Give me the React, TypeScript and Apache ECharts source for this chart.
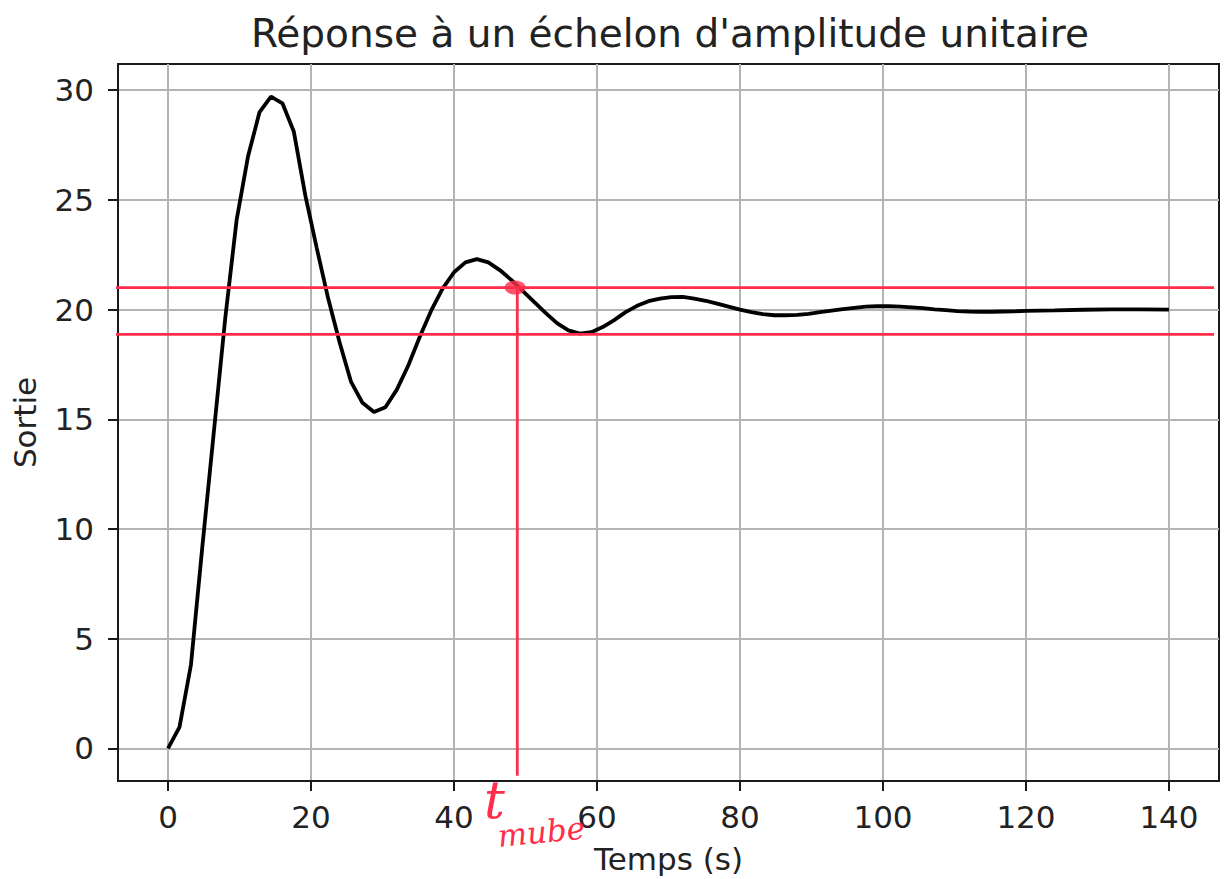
import React, { useEffect, useRef } from "react";
import * as echarts from "echarts";

// Temps (s)
const temps = [
  0, 1.6, 3.2, 4.8, 6.4, 8.0, 9.6, 11.2, 12.8, 14.4, 16.0, 17.6, 19.2, 20.8,
  22.4, 24.0, 25.6, 27.2, 28.8, 30.4, 32.0, 33.6, 35.2, 36.8, 38.4, 40.0,
  41.6, 43.2, 44.8, 46.4, 48.0, 49.6, 51.2, 52.8, 54.4, 56.0, 57.6, 59.2,
  60.8, 62.4, 64.0, 65.6, 67.2, 68.8, 70.4, 72.0, 73.6, 75.2, 76.8, 78.4,
  80.0, 81.6, 83.2, 84.8, 86.4, 88.0, 89.6, 91.2, 92.8, 94.4, 96.0, 97.6,
  99.2, 100.8, 102.4, 104.0, 105.6, 107.2, 108.8, 110.4, 112.0, 113.6, 115.2,
  116.8, 118.4, 120.0, 124.0, 128.0, 132.0, 136.0, 140.0,
];
// Sortie
const sortie = [
  0, 0.97, 3.8, 9.2, 14.4, 19.6, 24.1, 27.0, 29.0, 29.7, 29.4, 28.1, 25.2,
  22.8, 20.5, 18.5, 16.7, 15.75, 15.33, 15.55, 16.35, 17.45, 18.75, 19.95,
  20.95, 21.7, 22.15, 22.3, 22.15, 21.8, 21.35, 20.85, 20.35, 19.85, 19.38,
  19.05, 18.9, 18.97, 19.2, 19.52, 19.88, 20.17, 20.38, 20.5, 20.57, 20.58,
  20.5, 20.4, 20.27, 20.13, 20.0, 19.88, 19.79, 19.74, 19.74, 19.76, 19.8,
  19.88, 19.95, 20.02, 20.08, 20.13, 20.15, 20.15, 20.13, 20.1, 20.06, 20.01,
  19.97, 19.93, 19.91, 19.9, 19.9, 19.91, 19.92, 19.94, 19.96, 19.99, 20.01,
  20.01, 20.0,
];

const xTicks = [0, 20, 40, 60, 80, 100, 120, 140];
const yTicks = [0, 5, 10, 15, 20, 25, 30];

// hand-drawn annotation (red)
const bandLevels = [21.0, 18.87];
const bandSpan = [-7.4, 146.3];
const tSettle = 48.85;
const tSettleBottom = -1.25;

export default function App() {
  const ref = useRef<HTMLDivElement>(null);
  useEffect(() => {
    if (!ref.current) return;
    const chart = echarts.init(ref.current, undefined, { renderer: "svg" });
    const red = "#ff2d4a";
    const font = "DejaVu Sans";
    const txt = "#222222";
    const grid = "#b4b4b4";

    const curve = temps.map((t, i) => [t, sortie[i]]);
    const bandSeries = bandLevels.map((lv, i) => ({
      type: "line",
      name: "band" + i,
      data: [
        [bandSpan[0], lv],
        [bandSpan[1], lv],
      ],
      showSymbol: false,
      clip: false,
      silent: true,
      lineStyle: { color: red, width: 2.8 },
      z: 5,
    }));

    chart.setOption({
      animation: false,
      backgroundColor: "#ffffff",
      title: {
        text: "Réponse à un échelon d'amplitude unitaire",
        left: 246,
        top: 9,
        textStyle: {
          fontFamily: font,
          fontSize: 39,
          fontWeight: "normal",
          color: txt,
        },
      },
      grid: {
        left: 118,
        right: 10,
        top: 64,
        bottom: 98,
        show: true,
        borderColor: "#1a1a1a",
        borderWidth: 2,
      },
      xAxis: {
        type: "value",
        min: -7,
        max: 147,
        name: "Temps (s)",
        nameLocation: "middle",
        nameGap: 62,
        nameTextStyle: { fontFamily: font, fontSize: 31, color: txt },
        axisLine: { show: true, onZero: false, lineStyle: { color: "#1a1a1a", width: 2 } },
        axisTick: {
          show: true,
          length: 10,
          customValues: xTicks,
          lineStyle: { color: "#1a1a1a", width: 2 },
        },
        axisLabel: {
          customValues: xTicks,
          margin: 20,
          fontFamily: font,
          fontSize: 31,
          color: txt,
        },
        splitLine: { show: true, lineStyle: { color: grid, width: 2 } },
      },
      yAxis: {
        type: "value",
        min: -1.485,
        max: 31.19,
        name: "Sortie",
        nameLocation: "middle",
        nameGap: 78,
        nameTextStyle: { fontFamily: font, fontSize: 31, color: txt },
        axisLine: { show: true, onZero: false, lineStyle: { color: "#1a1a1a", width: 2 } },
        axisTick: {
          show: true,
          length: 10,
          customValues: yTicks,
          lineStyle: { color: "#1a1a1a", width: 2 },
        },
        axisLabel: {
          customValues: yTicks,
          margin: 24,
          fontFamily: font,
          fontSize: 31,
          color: txt,
        },
        splitLine: { show: true, lineStyle: { color: grid, width: 2 } },
      },
      series: [
        {
          type: "line",
          name: "Sortie",
          data: curve,
          showSymbol: false,
          smooth: false,
          lineStyle: { color: "#000000", width: 3.8 },
          z: 4,
        },
        ...bandSeries,
        {
          type: "line",
          name: "tsettle",
          data: [
            [tSettle, bandLevels[0]],
            [tSettle, tSettleBottom],
          ],
          showSymbol: false,
          clip: false,
          lineStyle: { color: red, width: 2.8 },
          z: 5,
        },
        {
          type: "scatter",
          name: "point",
          data: [[tSettle - 0.3, bandLevels[0]]],
          symbol: "circle",
          symbolSize: [21, 14],
          itemStyle: { color: red },
          z: 6,
        },
      ],
      graphic: [
        {
          type: "text",
          left: 484,
          top: 774,
          style: {
            text: "t",
            fontFamily: "DejaVu Serif",
            fontStyle: "italic",
            fontSize: 52,
            fill: red,
          },
          z: 10,
        },
        {
          type: "text",
          left: 496,
          top: 812,
          rotation: 0.1,
          style: {
            text: "mube",
            fontFamily: "DejaVu Serif",
            fontStyle: "italic",
            fontSize: 31,
            fill: red,
          },
          z: 10,
        },
      ],
    });
    return () => chart.dispose();
  }, []);
  return (
    <div
      ref={ref}
      style={{ position: "fixed", left: 0, top: 0, width: 1229, height: 879 }}
    />
  );
}
